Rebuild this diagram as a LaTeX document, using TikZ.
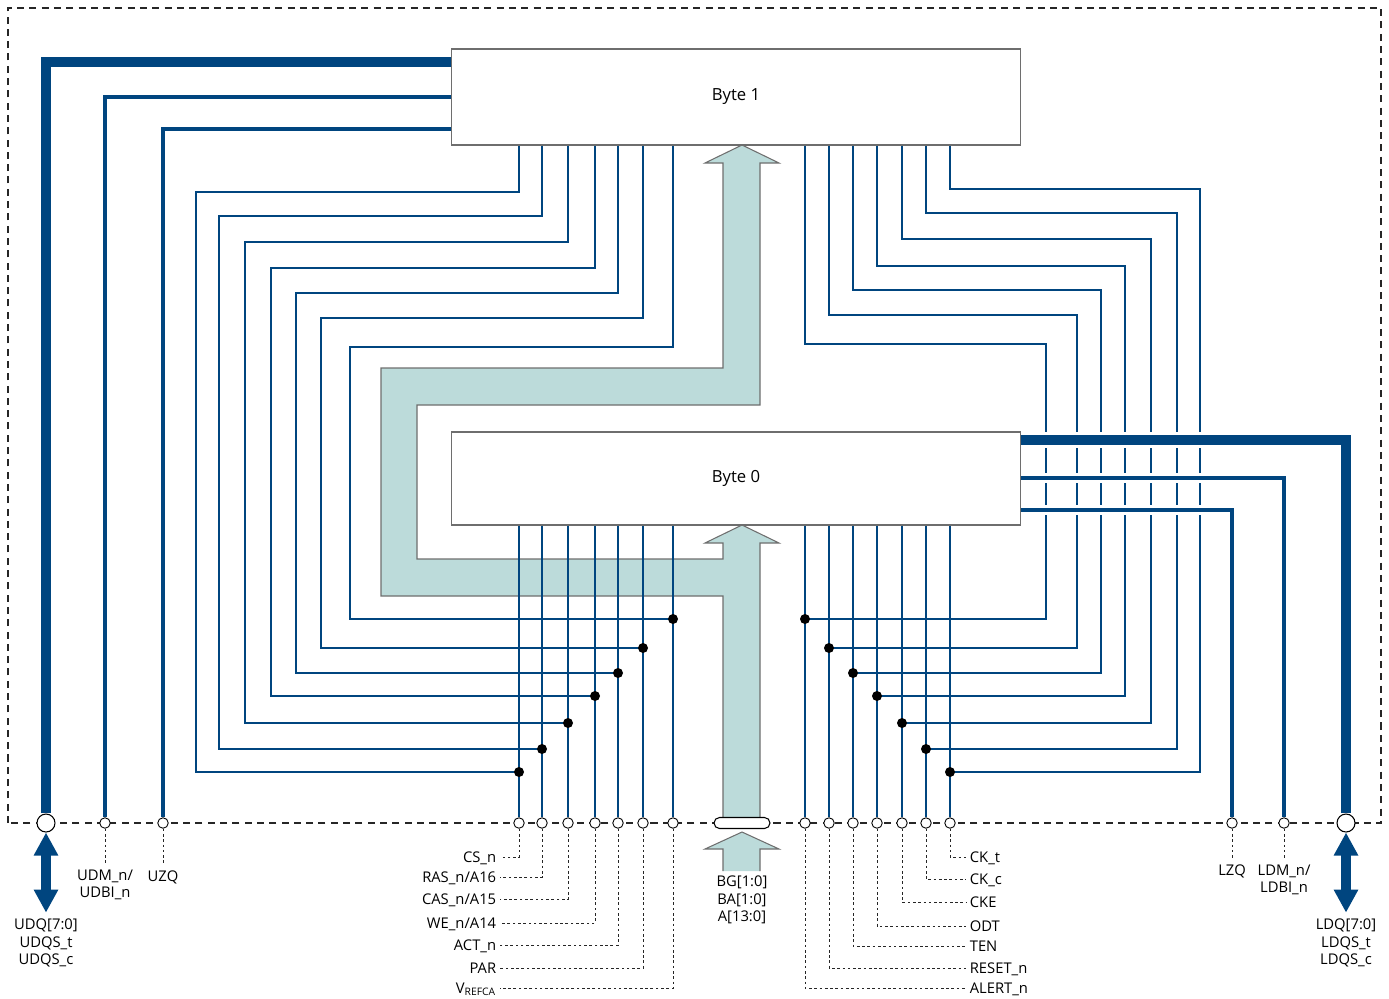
\documentclass[tikz,border=0pt]{standalone}
\usepackage{fontspec}
\setmainfont{Open Sans}
\usetikzlibrary{arrows.meta}

\definecolor{busblue}{HTML}{00457F}
\definecolor{busteal}{HTML}{BCDBDA}
\definecolor{boxgray}{HTML}{6E6E6E}

\tikzset{
  pinline/.style={draw=busblue, line width=1.1pt},
  sideline/.style={draw=busblue, line width=2pt, line join=miter},
  busline/.style={draw=busblue, line width=6pt, line join=miter},
  halo/.style={preaction={draw=white, line width=#1}},
  pad/.style={circle, draw, fill=white, inner sep=0pt, minimum size=0.21cm, line width=0.5pt},
  bigpad/.style={circle, draw, fill=white, inner sep=0pt, minimum size=0.36cm, line width=0.6pt},
  lead/.style={draw=black!85, dash pattern=on 1.5pt off 1.5pt, line width=0.5pt},
  frame/.style={draw=black!85, dash pattern=on 4pt off 3pt, line width=0.7pt},
  bytebox/.style={draw=boxgray, fill=white, minimum width=11.4cm, line width=0.6pt, font=\fontsize{9.5}{11}\selectfont},
  sig/.style={inner sep=2pt, text height=1.6ex, text depth=0.5ex},
  dqarrow/.style={draw=busblue, line width=6pt, {Triangle[length=0.46cm, width=0.46cm]}-{Triangle[length=0.46cm, width=0.46cm]}},
}

\begin{document}
\begin{tikzpicture}[x=0.02cm, y=-0.02cm, font=\fontsize{8.4}{10}\selectfont]
	\useasboundingbox (0,0) rectangle (1389,998);
	\draw[frame] (8,823) -- (8,8) -- (1381,8) -- (1381,823) -- cycle;

	% address bus
	\fill[busteal] (723,823) -- (723,596) -- (381,596) -- (381,368) -- (723,368) -- (723,163) -- (705,163) -- (742,145) -- (779,163) -- (760,163) -- (760,405) -- (417,405) -- (417,559) -- (723,559) -- (723,543) -- (705,543) -- (742,525) -- (779,543) -- (760,543) -- (760,823) -- cycle;
	\draw[boxgray, line width=0.6pt] (723,823) -- (723,596) -- (381,596) -- (381,368) -- (723,368) -- (723,163) -- (705,163) -- (742,145) -- (779,163) -- (760,163) -- (760,405) -- (417,405) -- (417,559) -- (723,559) -- (723,543) -- (705,543) -- (742,525) -- (779,543) -- (760,543) -- (760,823);

	% pads
	\node[bigpad] (udq) at (46,823) {};
	\node[pad] (udm) at (105,823) {};
	\node[pad] (uzq) at (163,823) {};
	\node[pad] (lzq) at (1232,823) {};
	\node[pad] (ldm) at (1284,823) {};
	\node[bigpad] (ldq) at (1346,823) {};
	\foreach \i/\px in {1/519, 2/542, 3/568, 4/595, 5/618, 6/643, 7/673}
		\node[pad] (L\i) at (\px,823) {};
	\foreach \i/\px in {1/805, 2/829, 3/853, 4/877, 5/902, 6/926, 7/950}
		\node[pad] (R\i) at (\px,823) {};
	\node[draw, fill=white, line width=0.6pt, rounded corners=0.11cm, minimum width=1.12cm, minimum height=0.22cm, inner sep=0pt] (addr) at (742,823) {};

	\node[bytebox, minimum height=1.92cm] (b1) at (736,97) {Byte 1};

	% byte 1 pins
	\foreach \i/\px/\ty/\lx/\dy in {1/519/192/196/772, 2/542/216/219/749, 3/568/242/245/723, 4/595/268/271/696, 5/618/293/296/673, 6/643/318/321/648, 7/673/347/350/619}{
		\coordinate (jl\i) at (\px,\dy);
		\draw[pinline] (b1.south -| L\i) |- (\lx,\ty) |- (jl\i);
	}
	\foreach \i/\px/\ty/\rx/\dy in {1/805/344/1046/619, 2/829/315/1077/648, 3/853/290/1101/673, 4/877/266/1125/696, 5/902/239/1151/723, 6/926/213/1177/749, 7/950/189/1200/772}{
		\coordinate (jr\i) at (\px,\dy);
		\draw[pinline] (b1.south -| R\i) |- (\rx,\ty) |- (jr\i);
	}

	% data lanes
	\draw[busline] (b1.west |- 0,62) -| (udq);
	\draw[sideline] (b1.west |- 0,97) -| (udm);
	\draw[sideline] (b1.west |- 0,129) -| (uzq);
	\draw[busline, halo=9.5pt] (1021,440) -| (ldq);
	\draw[sideline, halo=5.5pt] (1021,478) -| (ldm);
	\draw[sideline, halo=5.5pt] (1021,510) -| (lzq);

	\node[bytebox, minimum height=1.86cm] (b0) at (736,478.5) {Byte 0};

	% byte 0 pins
	\foreach \i in {1,...,7}{
		\draw[pinline] (b0.south -| L\i) -- (L\i);
		\draw[pinline] (b0.south -| R\i) -- (R\i);
		\fill (jl\i) circle (0.1cm);
		\fill (jr\i) circle (0.1cm);
	}

	% outside signals
	\node[align=center] (udqtxt) at (46,943) {UDQ[7:0]\\UDQS\_t\\UDQS\_c};
	\node[align=center] (ldqtxt) at (1346,943) {LDQ[7:0]\\LDQS\_t\\LDQS\_c};
	\draw[dqarrow] (udq) -- (udqtxt);
	\draw[dqarrow] (ldq) -- (ldqtxt);
	\node[align=center] (udmtxt) at (105,885) {UDM\_n/\\UDBI\_n};
	\node (uzqtxt) at (163,877) {UZQ};
	\node (lzqtxt) at (1232,871) {LZQ};
	\node[align=center] (ldmtxt) at (1284,880) {LDM\_n/\\LDBI\_n};
	\draw[lead] (udm) -- (udmtxt);
	\draw[lead] (uzq) -- (uzqtxt);
	\draw[lead] (lzq) -- (lzqtxt);
	\draw[lead] (ldm) -- (ldmtxt);

	\fill[busteal] (723,871) -- (723,849) -- (705,849) -- (742,832) -- (779,849) -- (760,849) -- (760,871) -- cycle;
	\draw[boxgray, line width=0.6pt] (723,871) -- (723,849) -- (705,849) -- (742,832) -- (779,849) -- (760,849) -- (760,871);
	\node[align=center] (addrtxt) at (742,900) {BG[1:0]\\BA[1:0]\\A[13:0]};

	\foreach \i/\txt/\ly in {1/CS\_n/857, 2/{RAS\_n/A16}/877, 3/{CAS\_n/A15}/899, 4/{WE\_n/A14}/923, 5/ACT\_n/945, 6/PAR/968, 7/{V\textsubscript{REFCA}}/988}{
		\node[sig, anchor=east] (ls\i) at (500,\ly) {\txt};
		\draw[lead] (L\i) |- (ls\i);
	}
	\foreach \i/\txt/\ly in {7/CK\_t/857, 6/CK\_c/879, 5/CKE/902, 4/ODT/926, 3/TEN/946, 2/RESET\_n/968, 1/ALERT\_n/988}{
		\node[sig, anchor=west] (rs\i) at (966,\ly) {\txt};
		\draw[lead] (R\i) |- (rs\i);
	}
\end{tikzpicture}
\end{document}
